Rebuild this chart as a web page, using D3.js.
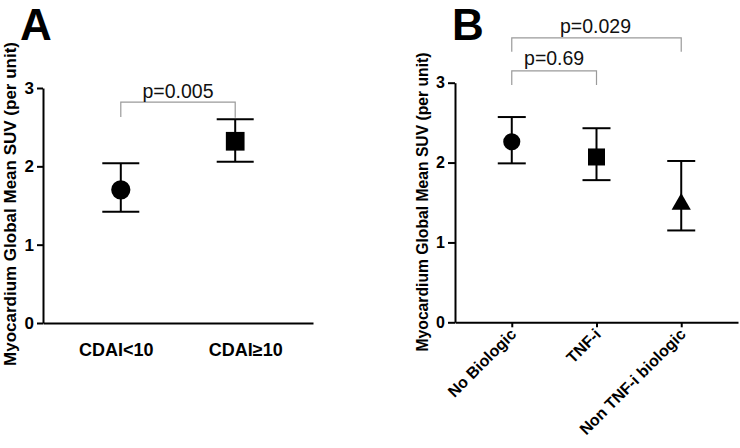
<!DOCTYPE html>
<html><head><meta charset="utf-8">
<script src="https://cdn.jsdelivr.net/npm/d3@7"></script>
<style>
body{margin:0;background:#fff;}
svg{display:block;font-family:"Liberation Sans",Arial,sans-serif;}
</style></head>
<body><svg id="chart" width="740" height="448"></svg>
<script>
// ---- data ----
const catsA = ["CDAI<10", "CDAI\u226510"];
const meanA = [1.70, 2.32];
const lowA  = [1.42, 2.06];
const highA = [2.04, 2.60];
const shapesA = ["circle", "square"];

const catsB = ["No Biologic", "TNF-i", "Non TNF-i biologic"];
const meanB = [2.26, 2.07, 1.48];
const lowB  = [1.99, 1.78, 1.15];
const highB = [2.57, 2.43, 2.02];
const shapesB = ["circle", "square", "triangle"];

const yTicks = [0, 1, 2, 3];
const yLabel = "Myocardium Global Mean SUV (per unit)";
const pA = [{from:0, to:1, text:"p=0.005"}];
const pB = [{from:0, to:1, text:"p=0.69"}, {from:0, to:2, text:"p=0.029"}];

const svg = d3.select("#chart");

function symbolFor(shape, sz){
  if (shape === "circle") return d3.symbol(d3.symbolCircle, sz.c)();
  if (shape === "square") return d3.symbol(d3.symbolSquare, sz.s)();
  return d3.symbol(d3.symbolTriangle, sz.t)();
}

function panel(o){
  const g = svg.append("g");
  const x = d3.scalePoint().domain(o.cats).range(o.xr).padding(o.pad);
  const y = d3.scaleLinear().domain([0,3]).range(o.yr);

  // y axis
  const ya = g.append("g").attr("transform", `translate(${o.xr[0]},0)`)
    .call(d3.axisLeft(y).tickValues(yTicks).tickSize(o.tick).tickSizeOuter(0).tickPadding(3).tickFormat(d3.format("d")));
  ya.select(".domain").attr("stroke","#000").attr("stroke-width",2);
  ya.selectAll(".tick line").attr("stroke","#000").attr("stroke-width",2);
  ya.selectAll(".tick text").attr("fill","#000").attr("font-size",o.tickFs).attr("font-weight","bold")
    .attr("font-family","Liberation Sans, Arial, sans-serif");

  // x axis
  const xa = g.append("g").attr("transform", `translate(0,${o.yr[0]})`)
    .call(d3.axisBottom(x).tickSize(o.xtick).tickSizeOuter(0).tickPadding(o.xpad));
  xa.select(".domain").attr("stroke","#000").attr("stroke-width",2);
  xa.selectAll(".tick line").attr("stroke","#000").attr("stroke-width",2);
  const xt = xa.selectAll(".tick text").attr("fill","#000").attr("font-size",o.xFs).attr("font-weight","bold")
    .attr("font-family","Liberation Sans, Arial, sans-serif");
  if (o.rotate){
    xt.attr("text-anchor","end").attr("dy",null).attr("y",null)
      .attr("transform",`translate(${o.rdx},${o.rdy}) rotate(-45)`);
  } else {
    xt.attr("dx",(d,i)=>o.labelDx[i]);
  }

  // y label
  g.append("text").attr("transform",`translate(${o.ylx},${o.yly}) rotate(-90)`)
    .attr("text-anchor","middle").attr("font-size",o.ylFs).attr("font-weight","bold").attr("fill","#000")
    .text(yLabel);

  // panel letter
  g.append("text").attr("x",o.letterX).attr("y",o.letterY).attr("font-size",44).attr("font-weight","bold")
    .attr("fill","#000").text(o.letter);

  // error bars + markers
  o.cats.forEach((c,i)=>{
    const cx = x(c);
    g.append("line").attr("x1",cx).attr("x2",cx).attr("y1",y(o.high[i])).attr("y2",y(o.low[i]))
      .attr("stroke","#000").attr("stroke-width",2);
    [o.high[i], o.low[i]].forEach(v=>{
      g.append("line").attr("x1",cx-o.cap).attr("x2",cx+o.cap).attr("y1",y(v)).attr("y2",y(v))
        .attr("stroke","#000").attr("stroke-width",2);
    });
    g.append("path").attr("d",symbolFor(o.shapes[i], o.sz))
      .attr("transform",`translate(${cx},${y(o.mean[i])})`).attr("fill","#000");
  });

  // p-value brackets
  o.pvals.forEach(p=>{
    const x1 = x(o.cats[p.from]), x2 = x(o.cats[p.to]);
    g.append("path").attr("d",`M${x1},${y(p.legEnd1)}V${y(p.bar)}H${x2}V${y(p.legEnd2)}`)
      .attr("fill","none").attr("stroke","#9a9a9a").attr("stroke-width",1.2);
    g.append("text").attr("x",(x1+x2)/2 + (p.dx||0)).attr("y",y(p.bar)-p.gap)
      .attr("text-anchor","middle").attr("font-size",o.pFs).attr("fill","#111").text(p.text);
  });
}

panel({
  cats:catsA, mean:meanA, low:lowA, high:highA, shapes:shapesA,
  xr:[43,313], pad:0.68, yr:[323,88], tick:6, tickFs:17, xtick:0, xpad:20, xFs:18,
  labelDx:[-5,10], rotate:false,
  ylx:16, yly:204, ylFs:17, letter:"A", letterX:20, letterY:40,
  cap:18.5, sz:{c:290, s:350, t:170},
  pvals:pA.map(p=>Object.assign({}, p, {bar:2.82, legEnd1:2.63, legEnd2:2.62, gap:4})),
  pFs:19.5
});

panel({
  cats:catsB, mean:meanB, low:lowB, high:highB, shapes:shapesB,
  xr:[455,738], pad:0.67, yr:[322.3,82.7], tick:7, tickFs:16, xtick:5, xpad:3, xFs:16,
  rotate:true, rdx:5, rdy:13,
  ylx:428, yly:202, ylFs:15.7, letter:"B", letterX:452, letterY:40,
  cap:14, sz:{c:230, s:290, t:160},
  pvals:[
    Object.assign({}, pB[0], {bar:3.149, legEnd1:2.97, legEnd2:2.97, gap:6, dx:0}),
    Object.assign({}, pB[1], {bar:3.56, legEnd1:3.386, legEnd2:3.386, gap:5, dx:-1})
  ],
  pFs:19.5
});
</script>
</body></html>
